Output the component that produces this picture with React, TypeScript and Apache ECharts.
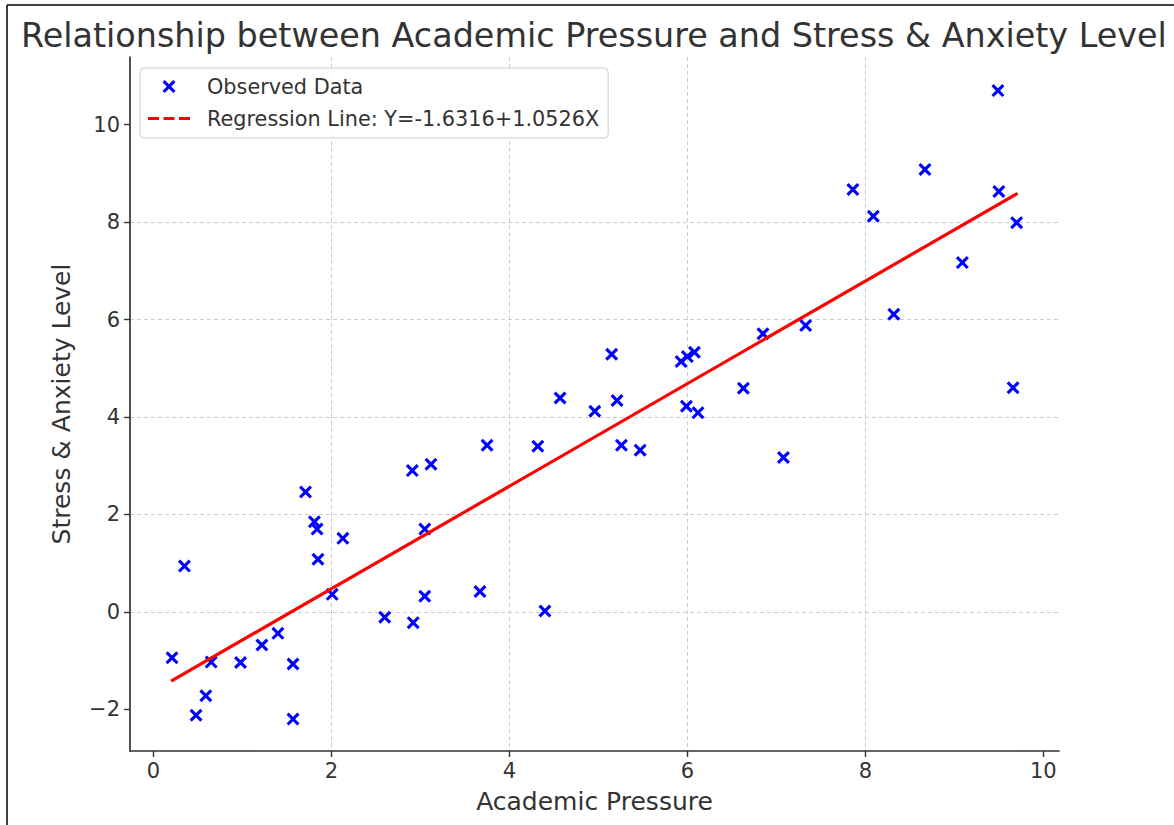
import React, { useEffect, useRef } from "react";
import * as echarts from "echarts";

const titleText = "Relationship between Academic Pressure and Stress & Anxiety Level";
const xName = "Academic Pressure";
const yName = "Stress & Anxiety Level";
const seriesNames = ["Observed Data", "Regression Line: Y=-1.6316+1.0526X"];

const pressure = [
  0.21, 0.35, 0.48, 0.59, 0.65, 0.98, 1.22, 1.4, 1.57, 1.57,
  1.71, 1.81, 1.84, 1.85, 2.01, 2.13, 2.6, 2.91, 2.92, 3.05,
  3.05, 3.12, 3.67, 3.75, 4.32, 4.4, 4.57, 4.96, 5.15, 5.21,
  5.26, 5.47, 5.93, 6.0, 6.08, 5.99, 6.12, 6.63, 6.85, 7.08,
  7.33, 7.86, 8.09, 8.32, 8.67, 9.09, 9.49, 9.5, 9.7, 9.66,
];
const stress = [
  -0.94, 0.94, -2.12, -1.72, -1.03, -1.04, -0.68, -0.44, -2.2, -1.07,
  2.46, 1.85, 1.7, 1.08, 0.36, 1.51, -0.11, 2.9, -0.22, 1.7,
  0.32, 3.03, 0.42, 3.42, 3.4, 0.02, 4.39, 4.12, 5.29, 4.34,
  3.42, 3.32, 5.14, 5.24, 5.33, 4.22, 4.09, 4.59, 5.71, 3.17,
  5.88, 8.67, 8.12, 6.11, 9.08, 7.17, 10.7, 8.63, 7.99, 4.6,
];
const regX = [0.2, 9.71];
const regY = [-1.42, 8.59];
const xTicks = [0, 2, 4, 6, 8, 10];
const yTicks = [-2, 0, 2, 4, 6, 8, 10];

const FONT = "DejaVu Sans";
const TXT = "#333333";
const X_SYMBOL = "path://M0,1.7L1.7,0L10,8.3L8.3,10Z M8.3,0L10,1.7L1.7,10L0,8.3Z";
const LEG_X =
  "path://M0,0M54,18M14.5,4.7L16.7,2.5L27.5,13.3L25.3,15.5Z M25.3,2.5L27.5,4.7L16.7,15.5L14.5,13.3Z";
const LEG_DASH =
  "path://M0,0M54,18M0,7.5L11,7.5L11,10.5L0,10.5Z M15.5,7.5L26.5,7.5L26.5,10.5L15.5,10.5Z M31,7.5L42,7.5L42,10.5L31,10.5Z";

const fmt = (v: number) => String(v).replace("-", "\u2212");

export default function App() {
  const ref = useRef<HTMLDivElement>(null);
  useEffect(() => {
    if (!ref.current) return;
    const chart = echarts.init(ref.current, undefined, { renderer: "svg" });
    const axisCommon = {
      type: "value" as const,
      nameLocation: "middle" as const,
      nameTextStyle: { fontSize: 25, color: TXT, fontFamily: FONT },
      axisLine: { show: true, onZero: false, lineStyle: { color: "#333333", width: 1.7 } },
      axisTick: { show: true, length: 6, lineStyle: { color: "#333333", width: 1.4 } },
      splitLine: {
        show: true,
        showMinLine: false,
        showMaxLine: false,
        lineStyle: { color: "#cccccc", width: 1, type: [4, 3] },
      },
    };
    chart.setOption({
      animation: false,
      backgroundColor: "#ffffff",
      title: {
        text: titleText,
        left: 16,
        top: 14,
        textStyle: { fontSize: 33.4, fontWeight: "normal", color: TXT, fontFamily: FONT },
      },
      grid: { left: 130, right: 115, top: 57, bottom: 74, containLabel: false },
      legend: {
        left: 140,
        top: 68,
        orient: "vertical",
        align: "left",
        itemWidth: 54,
        itemHeight: 18,
        itemGap: 11,
        padding: [8, 9, 9, 8],
        borderColor: "#cccccc",
        borderWidth: 1,
        borderRadius: 4,
        backgroundColor: "rgba(255,255,255,0.8)",
        selectedMode: false,
        itemStyle: { borderWidth: 0 },
        textStyle: { fontSize: 20.8, color: TXT, fontFamily: FONT },
        data: [
          { name: seriesNames[0], icon: LEG_X },
          { name: seriesNames[1], icon: LEG_DASH },
        ],
      },
      xAxis: {
        ...axisCommon,
        name: xName,
        nameGap: 38,
        min: -0.262,
        max: 10.176,
        splitNumber: 5,
        axisTick: { ...axisCommon.axisTick, customValues: xTicks },
        axisLabel: {
          customValues: xTicks,
          fontSize: 21,
          color: TXT,
          fontFamily: FONT,
          margin: 9,
          formatter: fmt,
        },
      },
      yAxis: {
        ...axisCommon,
        name: yName,
        nameGap: 56,
        min: -2.855,
        max: 11.39,
        splitNumber: 7,
        axisTick: { ...axisCommon.axisTick, customValues: yTicks },
        axisLabel: {
          customValues: yTicks,
          fontSize: 21,
          color: TXT,
          fontFamily: FONT,
          margin: 10,
          formatter: fmt,
        },
      },
      graphic: [
        { type: "line", shape: { x1: 7, y1: 5, x2: 1174, y2: 5 }, style: { stroke: "#000", lineWidth: 1.5 }, z: 100 },
        { type: "line", shape: { x1: 7, y1: 5, x2: 7, y2: 825 }, style: { stroke: "#000", lineWidth: 1.5 }, z: 100 },
      ],
      series: [
        {
          name: seriesNames[0],
          type: "scatter",
          symbol: X_SYMBOL,
          symbolSize: 13,
          itemStyle: { color: "#0000ff", opacity: 1 },
          z: 2,
          data: pressure.map((x, i) => [x, stress[i]]),
        },
        {
          name: seriesNames[1],
          type: "line",
          showSymbol: false,
          symbol: "none",
          lineStyle: { color: "#ff0000", width: 3.2 },
          itemStyle: { color: "#ff0000" },
          z: 3,
          data: regX.map((x, i) => [x, regY[i]]),
        },
      ],
    });
    return () => chart.dispose();
  }, []);
  return (
    <div
      ref={ref}
      style={{ position: "fixed", left: 0, top: 0, width: 1174, height: 825, background: "#fff" }}
    />
  );
}
